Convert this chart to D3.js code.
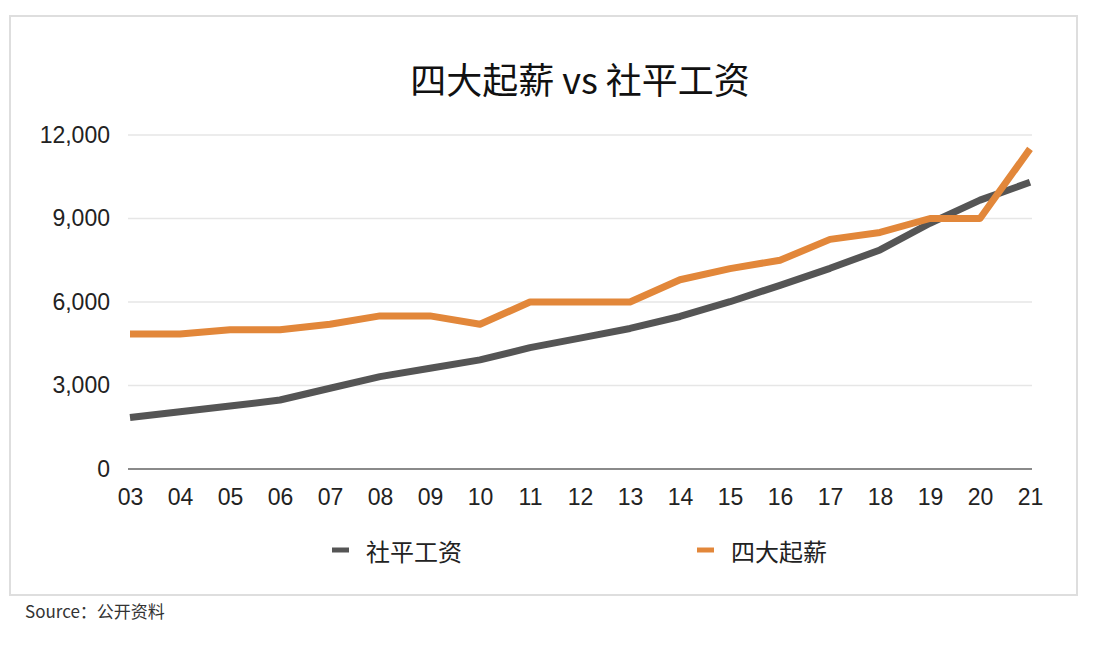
<!DOCTYPE html>
<html>
<head>
<meta charset="utf-8">
<script src="https://cdn.jsdelivr.net/npm/d3@7"></script>
<style>
  body { margin: 0; background: #fff; }
  svg { display: block; }
</style>
</head>
<body>
<svg id="chart" width="1094" height="672"></svg>
<script>
const years = ["03","04","05","06","07","08","09","10","11","12","13","14","15","16","17","18","19","20","21"];
const avgWage = [1850, 2060, 2260, 2480, 2900, 3320, 3620, 3920, 4360, 4700, 5050, 5480, 6010, 6600, 7210, 7870, 8830, 9660, 10300];
const big4Start = [4850, 4850, 5000, 5000, 5200, 5500, 5500, 5200, 6000, 6000, 6000, 6800, 7200, 7500, 8250, 8500, 9000, 9000, 11500];
const yTicks = [0, 3000, 6000, 9000, 12000];

const series = [
    { name: "社平工资", values: avgWage, color: "#555555" },
    { name: "四大起薪", values: big4Start, color: "#E2873A" }
];

const svg = d3.select("#chart");
const cjk = "'Noto Sans CJK SC', 'Noto Sans', sans-serif";
const num = "'Liberation Sans', Arial, sans-serif";

// card border
svg.append("rect")
    .attr("x", 10).attr("y", 16)
    .attr("width", 1067).attr("height", 579)
    .attr("fill", "#fff")
    .attr("stroke", "#dedede")
    .attr("stroke-width", 2);

svg.append("text")
    .attr("x", 580).attr("y", 78)
    .attr("text-anchor", "middle")
    .attr("dominant-baseline", "central")
    .attr("font-family", cjk)
    .attr("font-size", 36)
    .attr("font-weight", 400)
    .attr("fill", "#111")
    .text("四大起薪 vs 社平工资");

const x = d3.scalePoint().domain(years).range([130, 1030]);
const y = d3.scaleLinear().domain([0, 12000]).range([469, 135]);

// gridlines
svg.append("g")
    .selectAll("line")
    .data(yTicks)
    .join("line")
    .attr("x1", 128).attr("x2", 1032)
    .attr("y1", d => y(d)).attr("y2", d => y(d))
    .attr("stroke", d => d === 0 ? "#8a8a8a" : "#e6e6e6")
    .attr("stroke-width", d => d === 0 ? 2 : 1.5);

// y axis labels
const yAxis = svg.append("g")
    .attr("transform", "translate(118,0)")
    .call(d3.axisLeft(y).tickValues(yTicks).tickSize(0).tickPadding(8).tickFormat(d3.format(",")));
yAxis.select(".domain").remove();
yAxis.selectAll("text")
    .attr("font-family", num)
    .attr("font-size", 23)
    .attr("fill", "#222");

// x axis labels
const xAxis = svg.append("g")
    .attr("transform", "translate(0,469)")
    .call(d3.axisBottom(x).tickSize(0).tickPadding(20));
xAxis.select(".domain").remove();
xAxis.selectAll("text")
    .attr("font-family", num)
    .attr("font-size", 23)
    .attr("fill", "#222");

const line = d3.line()
    .x((d, i) => x(years[i]))
    .y(d => y(d));

svg.append("g")
    .selectAll("path")
    .data(series)
    .join("path")
    .attr("d", d => line(d.values))
    .attr("fill", "none")
    .attr("stroke", d => d.color)
    .attr("stroke-width", 7)
    .attr("stroke-linejoin", "round");

// legend
const legendX = [332, 697];
const legend = svg.append("g")
    .selectAll("g")
    .data(series)
    .join("g")
    .attr("transform", (d, i) => `translate(${legendX[i]},550)`);

legend.append("line")
    .attr("x1", 0).attr("x2", 17)
    .attr("stroke", d => d.color)
    .attr("stroke-width", 5);

legend.append("text")
    .attr("x", 34)
    .attr("dominant-baseline", "central")
    .attr("font-family", cjk)
    .attr("font-size", 24)
    .attr("fill", "#222")
    .text(d => d.name);

svg.append("text")
    .attr("x", 25).attr("y", 610)
    .attr("dominant-baseline", "central")
    .attr("font-family", cjk)
    .attr("font-size", 17)
    .attr("fill", "#333")
    .text("Source：公开资料");
</script>
</body>
</html>
